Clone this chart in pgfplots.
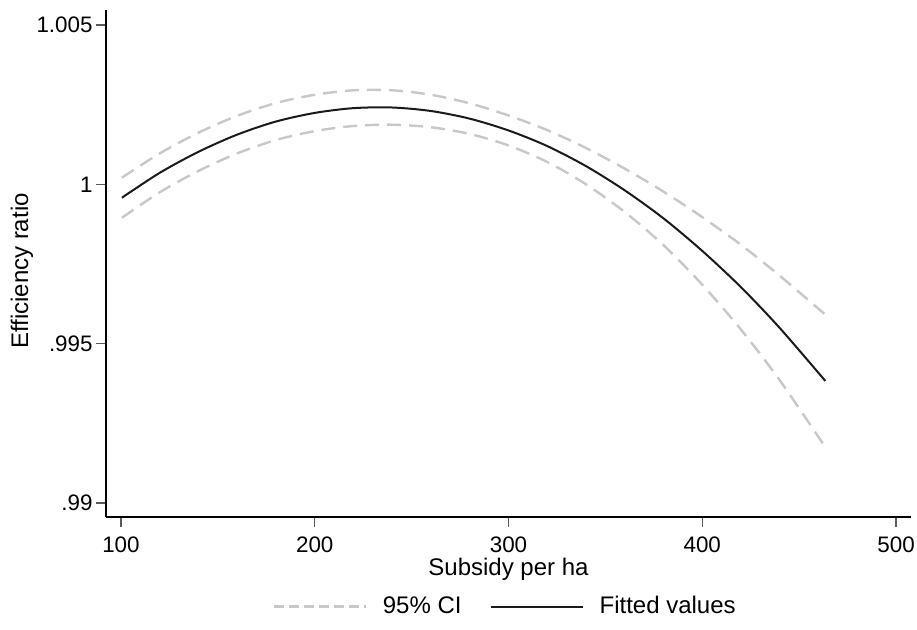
\documentclass[border=0pt]{standalone}
\usepackage{fontspec}
\setmainfont{Liberation Sans}
\usepackage{pgfplots}
\pgfplotsset{compat=1.18}
\definecolor{cigray}{HTML}{C8C8C8}
\definecolor{fitblack}{HTML}{1A1A1A}

\pgfplotstableread{
x      fit      lo       hi
100.5  0.99958  0.99895  1.00021
120    1.00036  0.99975  1.00097
140    1.00102  1.00042  1.00162
160    1.00156  1.00097  1.00215
180    1.00197  1.00139  1.00255
200    1.00224  1.00167  1.00281
220    1.00239  1.00183  1.00295
240    1.00241  1.00187  1.00295
260    1.00230  1.00179  1.00281
280    1.00206  1.00158  1.00254
300    1.00169  1.00122  1.00216
320    1.00120  1.00070  1.00170
340    1.00057  1.00000  1.00114
360    0.99981  0.99913  1.00049
380    0.99893  0.99809  0.99977
400    0.99791  0.99685  0.99897
420    0.99677  0.99544  0.99810
440    0.99549  0.99385  0.99713
463.5  0.99383  0.99175  0.99591
}\fitdata

\begin{document}
\begin{tikzpicture}
\useasboundingbox (0,0) rectangle (458.5pt,315pt);
\begin{axis}[
    at={(53pt,56.5pt)}, anchor=south west,
    scale only axis,
    width=402.5pt, height=253.5pt,
    xmin=92.27, xmax=507.73,
    ymin=0.98956, ymax=1.00547,
    axis x line*=bottom, axis y line*=left,
    axis line style={-, black, line width=0.75pt},
    xtick={100,200,300,400,500},
    ytick={0.99,0.995,1,1.005},
    yticklabels={.99,.995,1,1.005},
    tick align=outside,
    major tick length=5pt,
    tick style={black!65, line width=0.75pt},
    minor tick num=0,
    xticklabel style={font=\fontsize{11.2}{13}\selectfont, yshift=-1.5pt},
    yticklabel style={font=\fontsize{11.2}{13}\selectfont, inner sep=1.5pt},
    /pgf/number format/assume math mode=true,
    xlabel={Subsidy per ha},
    ylabel={Efficiency ratio},
    label style={font=\fontsize{12}{14}\selectfont},
    xlabel style={at={(axis description cs:0.5,-0.1026)}, anchor=center},
    ylabel style={at={(axis description cs:-0.1043,0.485)}, anchor=center},
    legend columns=2,
    legend style={at={(0.497,-0.1766)}, anchor=center, draw=none,
        font=\fontsize{12}{14}\selectfont,
        /tikz/every even column/.append style={column sep=12pt}},
    legend image code/.code={\draw[#1] (0pt,0pt) -- (46pt,0pt);},
]
\addplot[cigray, line width=1.2pt, dash pattern=on 7pt off 4pt, smooth,
    legend image code/.code={%
        \draw[cigray, line width=1.2pt, dash pattern=on 5pt off 2.5pt] (0pt,0pt) -- (46pt,0pt);}]
    table[x=x, y=hi] {\fitdata};
\addlegendentry{\hspace{6pt}95\% CI}
\addplot[fitblack, line width=1pt, smooth]
    table[x=x, y=fit] {\fitdata};
\addlegendentry{\hspace{6pt}Fitted values}
\addplot[cigray, line width=1.2pt, dash pattern=on 7pt off 4pt, smooth, forget plot]
    table[x=x, y=lo] {\fitdata};
\end{axis}
\end{tikzpicture}
\end{document}
